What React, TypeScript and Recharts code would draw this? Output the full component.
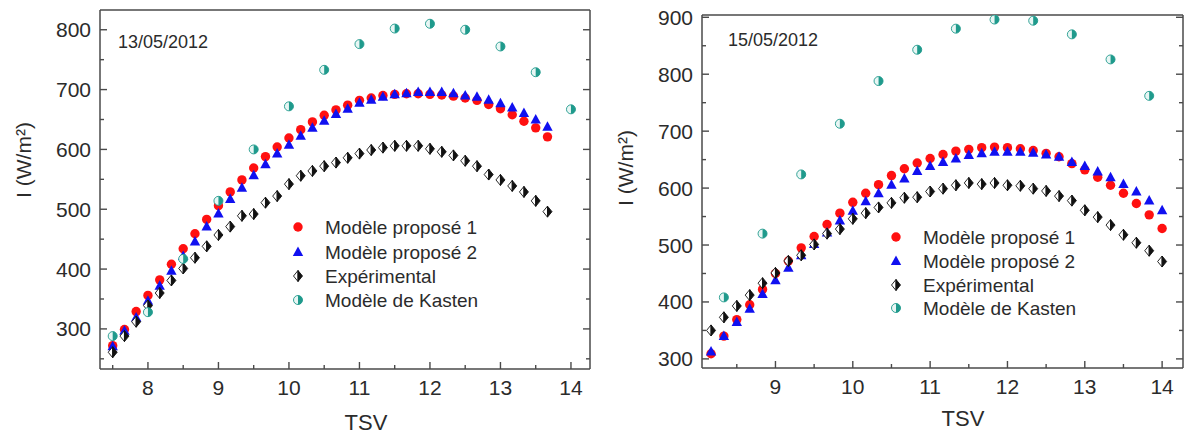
import React from 'react'
import { ScatterChart, Scatter, XAxis, YAxis } from 'recharts'

// 13/05/2012 : TSV (h) and irradiance (W/m²)
const tsv13 = [7.5, 7.667, 7.833, 8, 8.167, 8.333, 8.5, 8.667, 8.833, 9, 9.167, 9.333, 9.5, 9.667, 9.833, 10, 10.167, 10.333, 10.5, 10.667, 10.833, 11, 11.167, 11.333, 11.5, 11.667, 11.833, 12, 12.167, 12.333, 12.5, 12.667, 12.833, 13, 13.167, 13.333, 13.5, 13.667]
const prop1_13 = [272, 299, 329, 356, 382, 408, 434, 459, 483, 506, 529, 549, 569, 588, 604, 619, 633, 646, 657, 666, 674, 682, 686, 690, 692, 693, 693, 692, 691, 689, 686, 682, 675, 668, 658, 647, 636, 621]
const prop2_13 = [271, 297, 319, 347, 372, 397, 422, 446, 471, 493, 517, 536, 557, 575, 593, 608, 623, 636, 648, 659, 668, 678, 683, 688, 692, 694, 696, 696, 696, 694, 690, 688, 683, 677, 670, 661, 650, 638]
const exp13 = [261, 288, 312, 339, 360, 381, 401, 419, 438, 457, 471, 489, 492, 511, 522, 542, 556, 564, 572, 578, 586, 593, 599, 603, 606, 606, 606, 601, 596, 590, 581, 572, 558, 549, 539, 529, 514, 496]
const kastenTsv13 = [7.5, 8, 8.5, 9, 9.5, 10, 10.5, 11, 11.5, 12, 12.5, 13, 13.5, 14]
const kasten13 = [288, 328, 417, 514, 600, 672, 733, 776, 802, 810, 800, 772, 729, 667]

// 15/05/2012
const tsv15 = [8.167, 8.333, 8.5, 8.667, 8.833, 9, 9.167, 9.333, 9.5, 9.667, 9.833, 10, 10.167, 10.333, 10.5, 10.667, 10.833, 11, 11.167, 11.333, 11.5, 11.667, 11.833, 12, 12.167, 12.333, 12.5, 12.667, 12.833, 13, 13.167, 13.333, 13.5, 13.667, 13.833, 14]
const prop1_15 = [309, 340, 369, 395, 422, 450, 472, 495, 515, 536, 556, 575, 591, 606, 622, 634, 644, 652, 659, 665, 668, 671, 672, 671, 669, 666, 661, 655, 643, 632, 619, 605, 591, 573, 553, 529]
const prop2_15 = [313, 340, 365, 388, 414, 438, 460, 482, 502, 522, 543, 560, 577, 591, 606, 617, 630, 639, 646, 652, 658, 661, 664, 664, 664, 662, 659, 655, 646, 639, 629, 619, 607, 594, 578, 561]
const exp15 = [350, 373, 393, 412, 433, 451, 472, 482, 501, 520, 528, 546, 556, 566, 574, 583, 584, 594, 599, 605, 609, 607, 609, 605, 604, 599, 595, 586, 578, 561, 549, 535, 518, 504, 490, 471]
const kastenTsv15 = [8.333, 8.833, 9.333, 9.833, 10.333, 10.833, 11.333, 11.833, 12.333, 12.833, 13.333, 13.833]
const kasten15 = [408, 520, 624, 713, 788, 843, 880, 896, 894, 870, 826, 762]

// axes
const xTicks13 = [7.5, 8, 8.5, 9, 9.5, 10, 10.5, 11, 11.5, 12, 12.5, 13, 13.5, 14]
const xLabels13 = [8, 9, 10, 11, 12, 13, 14]
const yTicks13 = [250, 300, 350, 400, 450, 500, 550, 600, 650, 700, 750, 800]
const yLabels13 = [300, 400, 500, 600, 700, 800]
const xTicks15 = [8.5, 9, 9.5, 10, 10.5, 11, 11.5, 12, 12.5, 13, 13.5, 14]
const xLabels15 = [9, 10, 11, 12, 13, 14]
const yTicks15 = [300, 350, 400, 450, 500, 550, 600, 650, 700, 750, 800, 850, 900]
const yLabels15 = [300, 400, 500, 600, 700, 800, 900]

const seriesNames = ['Modèle proposé 1', 'Modèle proposé 2', 'Expérimental', 'Modèle de Kasten']

const FONT = '"Liberation Sans", Arial, sans-serif'
const AXIS = '#4a4a4a'
const TXT = '#2b2b2b'
const RED = '#ff1010'
const BLUE = '#1010f0'
const TEAL = '#1f9a8c'

const pts = (xs: number[], ys: number[]) => xs.map((x, i) => ({ x, y: ys[i] }))

// markers
const RedDot = (p: any) => <circle cx={p.cx} cy={p.cy} r={4.7} fill={RED} />
const BlueTri = (p: any) => (
  <path d={`M${p.cx},${p.cy - 5.5} L${p.cx + 5.2},${p.cy + 4} L${p.cx - 5.2},${p.cy + 4} Z`} fill={BLUE} />
)
const HalfDiamond = (p: any) => (
  <g>
    <path d={`M${p.cx},${p.cy - 5.5} L${p.cx - 4.5},${p.cy} L${p.cx},${p.cy + 5.5} Z`} fill="#fff" stroke="#111" strokeWidth={0.9} />
    <path d={`M${p.cx},${p.cy - 5.5} L${p.cx + 4.5},${p.cy} L${p.cx},${p.cy + 5.5} Z`} fill="#111" stroke="#111" strokeWidth={0.9} />
  </g>
)
const HalfCircle = (p: any) => (
  <g>
    <circle cx={p.cx} cy={p.cy} r={4.5} fill="#e8f6f4" stroke={TEAL} strokeWidth={0.9} />
    <path d={`M${p.cx},${p.cy - 4.5} A4.5,4.5 0 0 1 ${p.cx},${p.cy + 4.5} Z`} fill={TEAL} />
  </g>
)
const markers = [RedDot, BlueTri, HalfDiamond, HalfCircle]

// inward ticks (tickSize 0, tickMargin 0 -> x/y sit on the axis line)
const BottomTick = (props: any) => {
  const { x, y, payload, labels } = props
  const major = labels.includes(payload.value)
  return (
    <g>
      <line x1={x} x2={x} y1={y} y2={y - (major ? 7 : 4)} stroke={AXIS} strokeWidth={1.4} />
      {major && (
        <text x={x} y={y + 26} textAnchor="middle" fontSize={21} fill={TXT} fontFamily={FONT}>
          {payload.value}
        </text>
      )}
    </g>
  )
}
const TopTick = (props: any) => {
  const { x, y, payload, labels } = props
  const major = labels.includes(payload.value)
  return <line x1={x} x2={x} y1={y} y2={y + (major ? 7 : 4)} stroke={AXIS} strokeWidth={1.4} />
}
const LeftTick = (props: any) => {
  const { x, y, payload, labels } = props
  const major = labels.includes(payload.value)
  return (
    <g>
      <line x1={x} x2={x + (major ? 7 : 4)} y1={y} y2={y} stroke={AXIS} strokeWidth={1.4} />
      {major && (
        <text x={x - 9} y={y + 7.5} textAnchor="end" fontSize={21} fill={TXT} fontFamily={FONT}>
          {payload.value}
        </text>
      )}
    </g>
  )
}
const RightTick = (props: any) => {
  const { x, y, payload, labels } = props
  const major = labels.includes(payload.value)
  return <line x1={x} x2={x - (major ? 7 : 4)} y1={y} y2={y} stroke={AXIS} strokeWidth={1.4} />
}

type PanelProps = {
  left: number
  width: number
  axisLeft: number
  axisRight: number
  axisTop: number
  axisBottom: number
  xDomain: [number, number]
  yDomain: [number, number]
  xTicks: number[]
  xLabels: number[]
  yTicks: number[]
  yLabels: number[]
  series: { x: number; y: number }[][]
}

const Panel = (props: PanelProps) => {
  const axisLine = { stroke: AXIS, strokeWidth: 1.5 }
  return (
    <div style={{ position: 'absolute', left: props.left, top: 0 }}>
      <ScatterChart width={props.width} height={434} margin={{ top: 0, right: 0, bottom: 0, left: 0 }}>
        <XAxis
          type="number"
          dataKey="x"
          domain={props.xDomain}
          allowDataOverflow
          ticks={props.xTicks}
          interval={0}
          height={props.axisBottom}
          axisLine={axisLine}
          tickLine={false}
          tickSize={0}
          tickMargin={0}
          tick={<BottomTick labels={props.xLabels} />}
        />
        <XAxis
          xAxisId="top"
          orientation="top"
          type="number"
          domain={props.xDomain}
          allowDataOverflow
          ticks={props.xTicks}
          interval={0}
          height={props.axisTop}
          axisLine={axisLine}
          tickLine={false}
          tickSize={0}
          tickMargin={0}
          tick={<TopTick labels={props.xLabels} />}
        />
        <YAxis
          type="number"
          dataKey="y"
          domain={props.yDomain}
          allowDataOverflow
          ticks={props.yTicks}
          interval={0}
          width={props.axisLeft}
          axisLine={axisLine}
          tickLine={false}
          tickSize={0}
          tickMargin={0}
          tick={<LeftTick labels={props.yLabels} />}
        />
        <YAxis
          yAxisId="right"
          orientation="right"
          type="number"
          domain={props.yDomain}
          allowDataOverflow
          ticks={props.yTicks}
          interval={0}
          width={props.axisRight}
          axisLine={axisLine}
          tickLine={false}
          tickSize={0}
          tickMargin={0}
          tick={<RightTick labels={props.yLabels} />}
        />
        {props.series.map((data, i) => (
          <Scatter key={seriesNames[i]} name={seriesNames[i]} data={data} shape={markers[i]} isAnimationActive={false} />
        ))}
      </ScatterChart>
    </div>
  )
}

const LegendBlock = ({ mx, tx, rows }: { mx: number; tx: number; rows: number[] }) => (
  <g>
    {seriesNames.map((name, i) => {
      const Marker = markers[i]
      return (
        <g key={name}>
          <Marker cx={mx} cy={rows[i]} />
          <text x={tx} y={rows[i] + 7} fontSize={19} fill={TXT} fontFamily={FONT}>
            {name}
          </text>
        </g>
      )
    })}
  </g>
)

export default function App() {
  return (
    <div style={{ position: 'absolute', left: 0, top: 0, width: 1187, height: 434, background: '#fff', fontFamily: FONT }}>
      <Panel
        left={0}
        width={600}
        axisLeft={100}
        axisRight={10}
        axisTop={10}
        axisBottom={65}
        xDomain={[7.32, 14.27]}
        yDomain={[233, 833]}
        xTicks={xTicks13}
        xLabels={xLabels13}
        yTicks={yTicks13}
        yLabels={yLabels13}
        series={[pts(tsv13, prop1_13), pts(tsv13, prop2_13), pts(tsv13, exp13), pts(kastenTsv13, kasten13)]}
      />
      <Panel
        left={600}
        width={587}
        axisLeft={102}
        axisRight={4}
        axisTop={15}
        axisBottom={66}
        xDomain={[8.05, 14.27]}
        yDomain={[284, 904]}
        xTicks={xTicks15}
        xLabels={xLabels15}
        yTicks={yTicks15}
        yLabels={yLabels15}
        series={[pts(tsv15, prop1_15), pts(tsv15, prop2_15), pts(tsv15, exp15), pts(kastenTsv15, kasten15)]}
      />
      <svg width={1187} height={434} style={{ position: 'absolute', left: 0, top: 0, pointerEvents: 'none' }}>
        <text x={118} y={48} fontSize={18} fill={TXT} fontFamily={FONT}>13/05/2012</text>
        <text x={728} y={46} fontSize={18} fill={TXT} fontFamily={FONT}>15/05/2012</text>
        <text x={366} y={430} textAnchor="middle" fontSize={22} fill={TXT} fontFamily={FONT}>TSV</text>
        <text x={963} y={426} textAnchor="middle" fontSize={22} fill={TXT} fontFamily={FONT}>TSV</text>
        <text transform="translate(31,160) rotate(-90)" textAnchor="middle" fontSize={21} fill={TXT} fontFamily={FONT}>I (W/m²)</text>
        <text transform="translate(633,168) rotate(-90)" textAnchor="middle" fontSize={21} fill={TXT} fontFamily={FONT}>I (W/m²)</text>
        <LegendBlock mx={298} tx={325} rows={[227, 252, 276, 300]} />
        <LegendBlock mx={896} tx={923} rows={[237, 261, 285, 308]} />
      </svg>
    </div>
  )
}
